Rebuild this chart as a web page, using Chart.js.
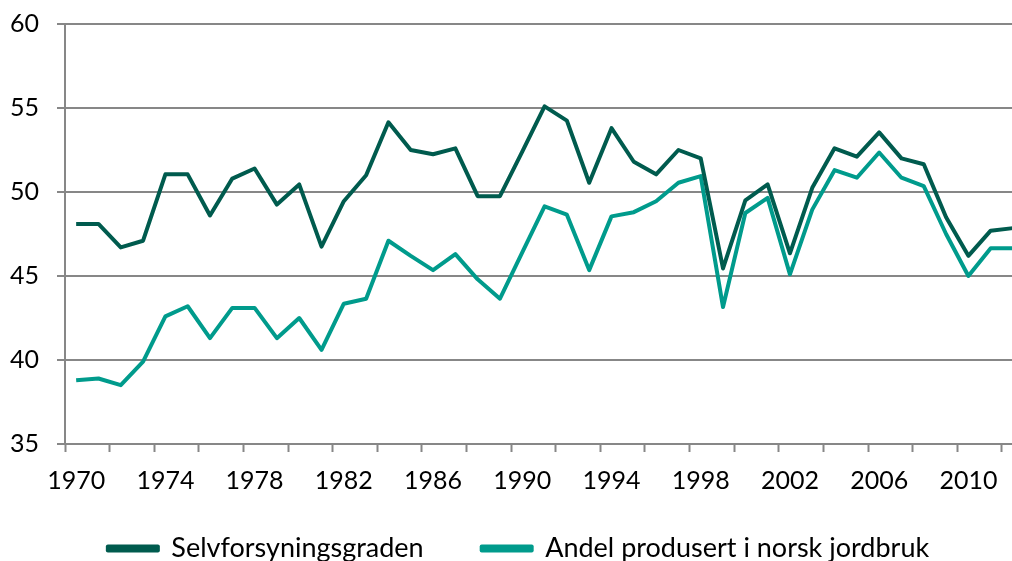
<!DOCTYPE html>
<html>
<head>
<meta charset="utf-8">
<script src="https://cdn.jsdelivr.net/npm/chart.js@4"></script>
<style>
  html, body { margin: 0; padding: 0; overflow: hidden; background: #fff; }
  #wrap { width: 1027px; height: 561px; position: relative; }
</style>
</head>
<body>
<div id="wrap"><canvas id="chart"></canvas></div>
<script>
const years = [1970,1971,1972,1973,1974,1975,1976,1977,1978,1979,
  1980,1981,1982,1983,1984,1985,1986,1987,1988,1989,
  1990,1991,1992,1993,1994,1995,1996,1997,1998,1999,
  2000,2001,2002,2003,2004,2005,2006,2007,2008,2009,
  2010,2011,2012];

const selvforsyning = [48.1,48.1,46.7,47.1,51.05,51.05,48.6,50.8,51.4,49.25,
  50.45,46.75,49.45,51.0,54.15,52.5,52.25,52.6,49.75,49.75,
  52.4,55.1,54.25,50.55,53.8,51.8,51.05,52.5,52.0,45.45,
  49.5,50.45,46.35,50.25,52.6,52.1,53.55,52.0,51.65,48.5,
  46.2,47.7,47.85];

const norskJordbruk = [38.8,38.9,38.5,39.9,42.6,43.2,41.3,43.1,43.1,41.3,
  42.5,40.6,43.35,43.65,47.1,46.2,45.35,46.3,44.8,43.65,
  46.4,49.15,48.65,45.35,48.55,48.8,49.45,50.55,50.95,43.15,
  48.75,49.65,45.1,48.95,51.3,50.85,52.35,50.85,50.35,47.5,
  45.0,46.65,46.65];

const yTicks = [35, 40, 45, 50, 55, 60];

const DARK = '#005b4e';
const LIGHT = '#009b8c';
const GREY = '#878787';
const FAMILY = 'Lato, "Liberation Sans", sans-serif';
const FONT = { family: FAMILY, size: 25 };
const LEGEND_FONT = { family: FAMILY, size: 27 };

Chart.defaults.font.family = FAMILY;
Chart.defaults.color = '#000';

// legend padding also sets the gap between items; pull the legend back up
const legendLift = {
  id: 'legendLift',
  afterLayout(chart) {
    const lg = chart.legend;
    if (!lg) return;
    lg.top -= 33;
    lg.bottom -= 33;
  }
};

new Chart(document.getElementById('chart'), {
  type: 'line',
  data: {
    labels: years,
    datasets: [
      { label: 'Selvforsyningsgraden', data: selvforsyning,
        borderColor: DARK, backgroundColor: DARK, borderWidth: 4 },
      { label: 'Andel produsert i norsk jordbruk', data: norskJordbruk,
        borderColor: LIGHT, backgroundColor: LIGHT, borderWidth: 4 }
    ]
  },
  plugins: [legendLift],
  options: {
    responsive: true,
    maintainAspectRatio: false,
    animation: false,
    layout: { padding: { top: 0, left: 10, right: 0, bottom: -44 } },
    elements: {
      line: { tension: 0, borderJoinStyle: 'round', borderCapStyle: 'butt' },
      point: { radius: 0, hoverRadius: 0 }
    },
    scales: {
      x: {
        type: 'category',
        offset: true,
        grid: {
          offset: true,
          drawOnChartArea: false,
          drawTicks: true,
          tickLength: 8,
          tickWidth: 2,
          tickColor: ctx => (ctx.index % 2 === 0 ? GREY : 'rgba(0,0,0,0)')
        },
        border: { color: GREY, width: 2 },
        ticks: {
          autoSkip: false,
          maxRotation: 0,
          minRotation: 0,
          padding: 14,
          font: FONT,
          color: '#000',
          callback: function (v, i) {
            const y = years[i];
            return (y - 1970) % 4 === 0 ? String(y) : '';
          }
        }
      },
      y: {
        min: 35,
        max: 60,
        afterFit: s => { s.width = 55; },
        afterBuildTicks: s => { s.ticks = yTicks.map(v => ({ value: v })); },
        grid: { color: GREY, lineWidth: 2, tickLength: 8, drawTicks: true },
        border: { color: GREY, width: 2 },
        ticks: { padding: 9, crossAlign: 'far', font: FONT, color: '#000' }
      }
    },
    plugins: {
      legend: {
        position: 'bottom',
        labels: {
          boxWidth: 50,
          boxHeight: 4,
          padding: 58,
          font: LEGEND_FONT,
          color: '#000'
        }
      },
      tooltip: { enabled: false }
    }
  }
});
</script>
</body>
</html>
